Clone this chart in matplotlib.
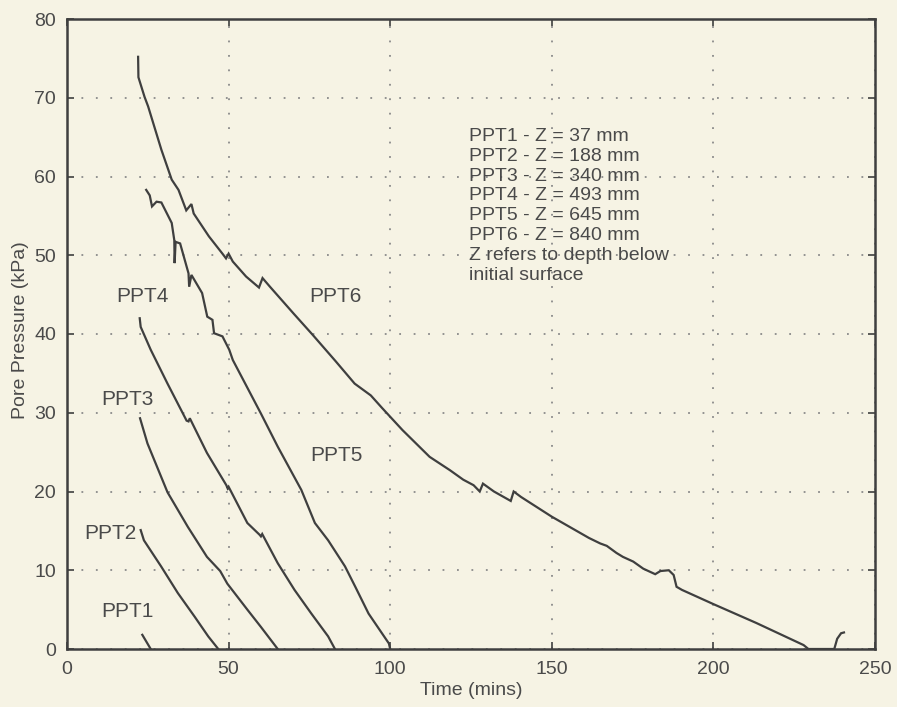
"""Pore pressure dissipation at six piezometers."""

import matplotlib.pyplot as plt

# --- data ---
ppt1_t = [23.3, 25.9]
ppt1_p = [1.8, 0.0]

ppt2_t = [22.8, 23.8, 29.1, 34.3, 39.5, 43.7, 46.8]
ppt2_p = [15.1, 13.8, 10.5, 7.1, 4.1, 1.6, 0.0]

ppt3_t = [22.6, 24.9, 29.1, 31.1, 37.4, 43.3, 47.4, 49.6, 55.8, 60.0, 65.2]
ppt3_p = [29.3, 26.1, 21.9, 19.9, 15.5, 11.7, 9.9, 8.3, 5.0, 2.8, 0.0]

ppt4_t = [22.5, 22.8, 25.9, 31.1, 37.0, 37.6, 38.0, 43.3, 49.3, 49.7, 50.0,
          55.8, 59.6, 60.0, 60.4, 65.2, 70.4, 75.6, 80.8, 82.9]
ppt4_p = [42.0, 40.9, 38.0, 33.7, 29.0, 28.9, 29.3, 24.9, 20.8, 20.4, 20.6,
          16.0, 14.5, 14.3, 14.6, 10.9, 7.5, 4.5, 1.6, 0.0]

ppt5_t = [24.5, 25.6, 26.3, 27.7, 29.2, 32.4, 33.2, 33.3, 33.6, 35.0, 37.6,
          37.8, 38.5, 41.8, 43.4, 45.0, 45.5, 48.1, 50.2, 51.3, 60.0, 65.2,
          72.5, 76.7, 80.8, 86.0, 89.2, 93.3, 99.6, 100.0]
ppt5_p = [58.3, 57.6, 56.2, 56.8, 56.7, 54.1, 51.9, 49.0, 51.7, 51.5, 47.7,
          46.0, 47.5, 45.2, 42.2, 41.8, 40.1, 39.7, 38.0, 36.7, 29.9, 25.7,
          20.2, 16.0, 13.8, 10.5, 7.9, 4.5, 0.7, 0.0]

ppt6_t = [22.0, 22.1, 24.0, 25.1, 29.2, 32.4, 34.5, 36.9, 38.5, 39.2, 43.9,
          48.1, 49.2, 50.0, 51.3, 55.4, 59.4, 60.5, 62.8, 70.1, 76.0, 83.0,
          89.0, 94.0, 97.5, 103.8, 112.2, 118.5, 122.6, 125.8, 127.7, 128.7,
          132.1, 137.3, 138.2, 140.5, 150.0, 161.5, 165.0, 167.0, 170.0,
          172.0, 175.2, 178.3, 182.0, 183.6, 186.2, 187.7, 188.6, 190.3,
          200.0, 213.3, 227.9, 229.4, 237.4, 238.3, 239.5, 240.4]
ppt6_p = [75.2, 72.6, 70.1, 68.9, 63.4, 59.6, 58.3, 55.7, 56.5, 55.3, 52.4,
          50.2, 49.6, 50.2, 49.2, 47.3, 45.9, 47.1, 46.0, 42.6, 39.9, 36.6,
          33.7, 32.2, 30.6, 27.8, 24.4, 22.7, 21.5, 20.8, 20.0, 21.0,
          20.0, 18.8, 20.0, 19.3, 16.8, 14.1, 13.4, 13.1, 12.2,
          11.7, 11.1, 10.2, 9.5, 9.9, 10.0, 9.4, 7.9, 7.5,
          5.7, 3.3, 0.5, 0.0, 0.0, 1.3, 2.0, 2.1]

# curve labels: (text, time, pressure)
curve_labels = [("PPT1", 18.7, 4.7), ("PPT2", 13.4, 14.7), ("PPT3", 18.7, 31.7),
                ("PPT4", 23.3, 44.7), ("PPT5", 83.4, 24.6), ("PPT6", 83.1, 44.7)]

legend_lines = ["PPT1 - Z = 37 mm", "PPT2 - Z = 188 mm", "PPT3 - Z = 340 mm",
                "PPT4 - Z = 493 mm", "PPT5 - Z = 645 mm", "PPT6 - Z = 840 mm",
                "Z refers to depth below", "initial surface"]

x_ticks = [0, 50, 100, 150, 200, 250]
y_ticks = [0, 10, 20, 30, 40, 50, 60, 70, 80]

# --- styling ---
paper = "#f6f3e4"
ink = "#3f3f3f"
text_col = "#4a4a4a"
plt.rcParams['font.family'] = ['Liberation Sans', 'DejaVu Sans']

fig = plt.figure(figsize=(8.97, 7.07), dpi=100, facecolor=paper)
ax = fig.add_axes([67 / 897, 58 / 707, 808 / 897, 630 / 707], facecolor=paper)

series = [(ppt1_t, ppt1_p), (ppt2_t, ppt2_p), (ppt3_t, ppt3_p),
          (ppt4_t, ppt4_p), (ppt5_t, ppt5_p), (ppt6_t, ppt6_p)]
for t, p in series:
    ax.plot(t, p, color=ink, linewidth=1.6, solid_joinstyle='miter')

for name, t, p in curve_labels:
    ax.text(t, p, name, fontsize=15, color=text_col, ha='center', va='center')

for i, line in enumerate(legend_lines):
    ax.text(124.5, 65.1 - i * 2.52, line, fontsize=14, color=text_col,
            ha='left', va='center')

ax.set_xlim(0, 250)
ax.set_ylim(0, 80)
ax.set_xticks(x_ticks)
ax.set_yticks(y_ticks)
ax.grid(True, color="#8a8a8a", linestyle=(0, (1, 7)), linewidth=1.3)
ax.tick_params(direction='in', length=5, width=1.2, colors=ink,
               labelcolor=text_col, labelsize=14, top=True, right=True)
ax.tick_params(axis='x', pad=9)
ax.tick_params(axis='y', pad=8)
for spine in ax.spines.values():
    spine.set_color(ink)
    spine.set_linewidth(1.8)

ax.set_xlabel("Time (mins)", fontsize=14, color=text_col)
ax.xaxis.set_label_coords(0.5, -0.052)
ax.set_ylabel("Pore Pressure (kPa)", fontsize=14, color=text_col, va='center')
ax.yaxis.set_label_coords(-0.058, 0.506)

plt.savefig("out.png", dpi=100, facecolor=paper)
plt.close()
